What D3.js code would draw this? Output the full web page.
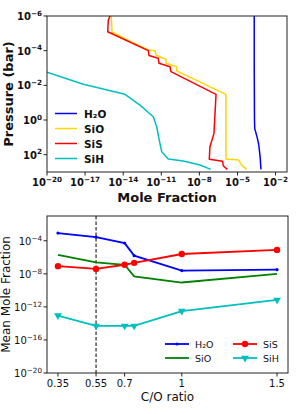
<!DOCTYPE html>
<html>
<head>
<meta charset="utf-8">
<script src="https://cdn.jsdelivr.net/npm/d3@7"></script>
<style>
  html, body { margin: 0; padding: 0; background: #fff; }
  svg { display: block; font-family: "DejaVu Sans", sans-serif; }
</style>
</head>
<body>
<svg id="chart" width="299" height="414"></svg>
<script>
// ---- top panel: vertical profiles, [log10 mole fraction, log10 pressure] ----
const h2oProfile = [[-3.68,-6],[-3.68,-3],[-3.66,0],[-3.64,0.5],[-3.45,1.0],[-3.33,1.4],[-3.22,2.1],[-3.15,2.85]];
const sioProfile = [[-14.96,-6],[-14.92,-5.77],[-14.88,-5.08],[-13.2,-4.45],[-12.02,-4.04],[-11.5,-4.0],[-11.42,-3.75],
  [-10.63,-3.5],[-10.63,-3.27],[-9.79,-3.07],[-9.79,-2.83],[-5.91,-1.48],[-5.91,2.25],[-4.91,2.31],[-4.67,2.6],[-4.28,2.85]];
const sisProfile = [[-15.04,-6],[-15.17,-5.77],[-15.22,-5.09],[-12.02,-4.0],[-11.97,-3.72],[-11.24,-3.56],[-11.18,-3.27],
  [-10.31,-3.07],[-10.24,-2.79],[-6.69,-1.48],[-6.85,0.77],[-7.17,1.54],[-7.22,2.27],[-6.17,2.38],[-6.12,2.64],[-5.8,2.85]];
const sihProfile = [[-20.6,-2.95],[-20,-2.75],[-17.14,-2.06],[-13.86,-1.48],[-12.68,-0.86],[-11.63,-0.19],[-11.36,0.39],
  [-11.16,1.16],[-10.97,1.83],[-10.45,2.25],[-9.27,2.37],[-7.95,2.6],[-7.11,2.85]];
const topSpecies = ['H\u2082O', 'SiO', 'SiS', 'SiH'];
const topColors = ['#0000ff', '#ffd700', '#ff0000', '#00bfbf'];
const topXTicks = [-20, -17, -14, -11, -8, -5, -2];
const topYTicks = [-6, -4, -2, 0, 2];

// ---- bottom panel: mean mole fraction vs C/O ----
const coRatio = [0.35, 0.55, 0.7, 0.75, 1.0, 1.5];
const h2oMean = [-3.07, -3.55, -4.28, -5.8, -7.6, -7.5];
const sioMean = [-5.7, -6.6, -6.9, -8.3, -9.05, -8.0];
const sisMean = [-7.07, -7.4, -6.9, -6.67, -5.6, -5.1];
const sihMean = [-13.05, -14.3, -14.3, -14.3, -12.5, -11.15];
const coTicks = [0.35, 0.55, 0.7, 1, 1.5];
const botYTicks = [-20, -16, -12, -8, -4];
const solarCO = 0.55;

const svg = d3.select('#chart');
const axisColor = '#222';

function powLabel(sel, exp, size, weight) {
  sel.attr('font-size', size).attr('font-weight', weight).attr('fill', '#111');
  sel.append('tspan').text('10');
  sel.append('tspan').attr('dy', -size * 0.42).attr('font-size', size * 0.72).text('\u2212'.repeat(exp < 0 ? 1 : 0) + Math.abs(exp));
}

// ================= TOP PANEL =================
const T = { l: 47, r: 287, t: 16, b: 172 };
const xT = d3.scaleLog().domain([1e-20, Math.pow(10, -1.1)]).range([T.l, T.r]);
const yT = d3.scaleLog().domain([1e-6, 1e3]).range([T.t, T.b]);

svg.append('clipPath').attr('id', 'clipT').append('rect')
  .attr('x', T.l).attr('y', T.t).attr('width', T.r - T.l).attr('height', T.b - T.t);

const profLine = d3.line().x(d => xT(Math.pow(10, d[0]))).y(d => yT(Math.pow(10, d[1])));
const gT = svg.append('g').attr('clip-path', 'url(#clipT)');
[h2oProfile, sioProfile, sisProfile, sihProfile].forEach((prof, i) => {
  gT.append('path').attr('d', profLine(prof)).attr('fill', 'none')
    .attr('stroke', topColors[i]).attr('stroke-width', 1.5).attr('stroke-linejoin', 'round');
});

svg.append('rect').attr('x', T.l).attr('y', T.t).attr('width', T.r - T.l).attr('height', T.b - T.t)
  .attr('fill', 'none').attr('stroke', axisColor).attr('stroke-width', 1);

topXTicks.forEach(e => {
  const x = xT(Math.pow(10, e));
  svg.append('line').attr('x1', x).attr('x2', x).attr('y1', T.b).attr('y2', T.b + 3.5).attr('stroke', axisColor);
  powLabel(svg.append('text').attr('x', x).attr('y', T.b + 14).attr('text-anchor', 'middle'), e, 10, 'bold');
});
topYTicks.forEach(e => {
  const y = yT(Math.pow(10, e));
  svg.append('line').attr('x1', T.l - 3.5).attr('x2', T.l).attr('y1', y).attr('y2', y).attr('stroke', axisColor);
  powLabel(svg.append('text').attr('x', T.l - 5).attr('y', y + 4).attr('text-anchor', 'end'), e, 10, 'bold');
});

svg.append('text').attr('x', (T.l + T.r) / 2).attr('y', 202).attr('text-anchor', 'middle')
  .attr('font-size', 13).attr('font-weight', 'bold').attr('fill', '#111').text('Mole Fraction');
svg.append('text').attr('transform', `translate(13,${(T.t + T.b) / 2}) rotate(-90)`).attr('text-anchor', 'middle')
  .attr('font-size', 13).attr('font-weight', 'bold').attr('fill', '#111').text('Pressure (bar)');

const legT = svg.append('g');
topSpecies.forEach((s, i) => {
  const y = 113.5 + i * 15;
  legT.append('line').attr('x1', 55).attr('x2', 77).attr('y1', y).attr('y2', y)
    .attr('stroke', topColors[i]).attr('stroke-width', 1.5);
  legT.append('text').attr('x', 84).attr('y', y + 4).attr('font-size', 10.5).attr('font-weight', 'bold')
    .attr('fill', '#111').text(s);
});

// ================= BOTTOM PANEL =================
const B = { l: 47, r: 288, t: 216, b: 373 };
const xB = d3.scaleLinear().domain([0.2925, 1.5575]).range([B.l, B.r]);
const yB = d3.scaleLog().domain([1e-20, 1e-1]).range([B.b, B.t]);

svg.append('line').attr('x1', xB(solarCO)).attr('x2', xB(solarCO)).attr('y1', B.t).attr('y2', B.b)
  .attr('stroke', '#000').attr('stroke-width', 1).attr('stroke-dasharray', '3.5,2');

const meanLine = d3.line().x((d, i) => xB(coRatio[i])).y(d => yB(Math.pow(10, d)));
const series = [
  { name: 'H\u2082O', vals: h2oMean, color: '#0000ff', marker: 'dot' },
  { name: 'SiS', vals: sisMean, color: '#ff0000', marker: 'circle' },
  { name: 'SiO', vals: sioMean, color: '#008000', marker: 'none' },
  { name: 'SiH', vals: sihMean, color: '#00bfbf', marker: 'tri' }
];

function drawMarker(g, type, x, y, color) {
  if (type === 'dot') g.append('circle').attr('cx', x).attr('cy', y).attr('r', 1.6).attr('fill', color);
  if (type === 'circle') g.append('circle').attr('cx', x).attr('cy', y).attr('r', 3.2).attr('fill', color);
  if (type === 'tri') g.append('path')
    .attr('d', d3.symbol().type(d3.symbolTriangle).size(26)())
    .attr('transform', `translate(${x},${y}) rotate(180)`).attr('fill', color);
}

const gB = svg.append('g');
[series[2], series[0], series[1], series[3]].forEach(s => {
  gB.append('path').attr('d', meanLine(s.vals)).attr('fill', 'none')
    .attr('stroke', s.color).attr('stroke-width', 1.8);
  s.vals.forEach((v, i) => drawMarker(gB, s.marker, xB(coRatio[i]), yB(Math.pow(10, v)), s.color));
});

svg.append('rect').attr('x', B.l).attr('y', B.t).attr('width', B.r - B.l).attr('height', B.b - B.t)
  .attr('fill', 'none').attr('stroke', axisColor).attr('stroke-width', 1);

coTicks.forEach(c => {
  const x = xB(c);
  svg.append('line').attr('x1', x).attr('x2', x).attr('y1', B.b).attr('y2', B.b + 3.5).attr('stroke', axisColor);
  svg.append('text').attr('x', x).attr('y', B.b + 14).attr('text-anchor', 'middle')
    .attr('font-size', 10).attr('fill', '#111').text(c);
});
botYTicks.forEach(e => {
  const y = yB(Math.pow(10, e));
  svg.append('line').attr('x1', B.l - 3.5).attr('x2', B.l).attr('y1', y).attr('y2', y).attr('stroke', axisColor);
  powLabel(svg.append('text').attr('x', B.l - 5).attr('y', y + 4).attr('text-anchor', 'end'), e, 10, 'normal');
});

svg.append('text').attr('x', (B.l + B.r) / 2).attr('y', 401).attr('text-anchor', 'middle')
  .attr('font-size', 12).attr('fill', '#111').text('C/O ratio');
svg.append('text').attr('transform', `translate(10,${(B.t + B.b) / 2}) rotate(-90)`).attr('text-anchor', 'middle')
  .attr('font-size', 12).attr('fill', '#111').text('Mean Mole Fraction');

const legB = svg.append('g');
series.forEach((s, i) => {
  const col = i % 2, row = Math.floor(i / 2);
  const x0 = col === 0 ? 165 : 233, y = 344 + row * 14;
  legB.append('line').attr('x1', x0).attr('x2', x0 + 24).attr('y1', y).attr('y2', y)
    .attr('stroke', s.color).attr('stroke-width', 1.8);
  drawMarker(legB, s.marker, x0 + 12, y, s.color);
  legB.append('text').attr('x', x0 + 30).attr('y', y + 3.5).attr('font-size', 9.5).attr('fill', '#111').text(s.name);
});
</script>
</body>
</html>
